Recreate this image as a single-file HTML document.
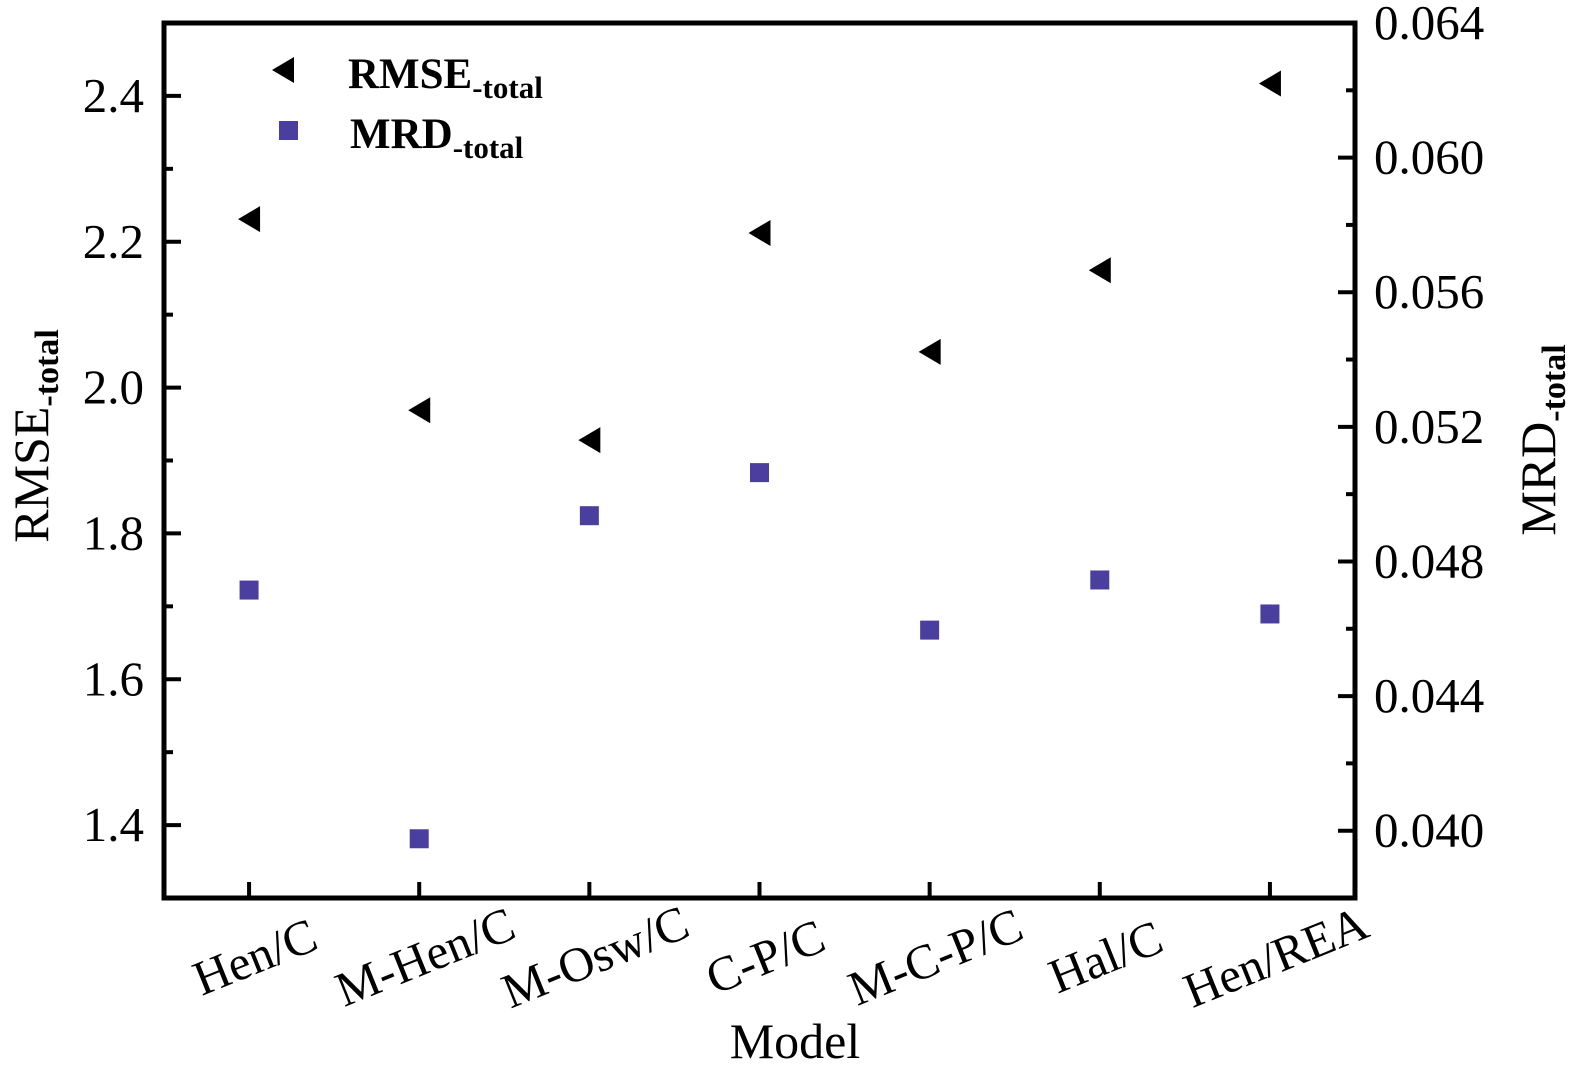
<!DOCTYPE html>
<html><head><meta charset="utf-8"><style>
html,body{margin:0;padding:0;background:#fff;}
svg{display:block;font-family:"Liberation Serif",serif;}
</style></head><body>
<svg id="chart" width="1583" height="1071" viewBox="0 0 1583 1071">
<g id="axes"></g>
<g id="marks"></g>
<g id="legend">
  <polygon points="272,70 294,57 294,83" fill="#000"/>
  <text x="348" y="88" font-size="43" font-weight="bold">RMSE<tspan font-size="31" dy="10">-total</tspan></text>
  <rect x="279" y="121" width="19" height="19" fill="#4a3f9e"/>
  <text x="350" y="148" font-size="43" font-weight="bold">MRD<tspan font-size="31" dy="10">-total</tspan></text>
</g>
<text transform="translate(48,436) rotate(-90)" text-anchor="middle" font-size="50">RMSE<tspan font-size="34" font-weight="bold" dy="10">-total</tspan></text>
<text transform="translate(1555,440) rotate(-90)" text-anchor="middle" font-size="50">MRD<tspan font-size="34" font-weight="bold" dy="10">-total</tspan></text>
<text x="795" y="1058" text-anchor="middle" font-size="50">Model</text>
</svg>
<script>
const categories = ["Hen/C","M-Hen/C","M-Osw/C","C-P/C","M-C-P/C","Hal/C","Hen/REA"];
const rmseValues = [2.231,1.969,1.928,2.212,2.049,2.161,2.417];
const mrdValues = [0.04715,0.03976,0.04936,0.05064,0.04596,0.04745,0.04644];
const leftTicks = ["1.4","1.6","1.8","2.0","2.2","2.4"];
const rightTicks = ["0.040","0.044","0.048","0.052","0.056","0.060","0.064"];

const L=164,R=1355,T=23,B=898;
const yL=v=>B-(v-1.3)/(2.5-1.3)*(B-T);
const yR=v=>B-(v-0.038)/(0.064-0.038)*(B-T);
const xC=i=>L+(i+0.5)*(R-L)/categories.length;
const NS="http://www.w3.org/2000/svg";
const axes=document.getElementById('axes'), marks=document.getElementById('marks');
function mk(tag,attrs,parent){const e=document.createElementNS(NS,tag);for(const k in attrs)e.setAttribute(k,attrs[k]);parent.appendChild(e);return e;}

const frame=mk('rect',{x:L,y:T,width:R-L,height:B-T,fill:'none',stroke:'#000','stroke-width':5},axes);



for(let v=1.3;v<=2.5001;v+=0.1){
  const y=yL(v); const major=Math.abs(Math.round(v*10)%2)===0;
  const t=mk('line',{x1:L,x2:L+(major?17:9),y1:y,y2:y,stroke:'#000','stroke-width':4},axes);
  
  
}
leftTicks.forEach(s=>{
  const t=mk('text',{x:L-20,y:yL(parseFloat(s))+16,'text-anchor':'end','font-size':49},axes);
  t.textContent=s;
  
  
});
for(let k=0;k<=13;k++){
  const v=0.038+k*0.002; const y=yR(v); const major=(k%2===1);
  const t=mk('line',{x1:R,x2:R-(major?17:9),y1:y,y2:y,stroke:'#000','stroke-width':4},axes);
  
  
}
rightTicks.forEach(s=>{
  const t=mk('text',{x:R+19,y:yR(parseFloat(s))+16,'text-anchor':'start','font-size':49},axes);
  t.textContent=s;
  
  
});
categories.forEach((c,i)=>{
  const x=xC(i);
  const t=mk('line',{x1:x,x2:x,y1:B,y2:B-16,stroke:'#000','stroke-width':4},axes);
  
  
  const lb=mk('text',{x:0,y:0,'text-anchor':'middle','font-size':49,transform:`translate(${x+12},${972}) rotate(-22)`},axes);
  lb.textContent=c;
  
  
});
rmseValues.forEach((v,i)=>{
  const x=xC(i),y=yL(v);
  const p=mk('polygon',{points:`${x-11},${y} ${x+11},${y-13} ${x+11},${y+13}`,fill:'#000'},marks);
  
  
});
mrdValues.forEach((v,i)=>{
  const x=xC(i),y=yR(v);
  const r=mk('rect',{x:x-9.5,y:y-9.5,width:19,height:19,fill:'#4a3f9e'},marks);
  
  
});
</script>
</body></html>
